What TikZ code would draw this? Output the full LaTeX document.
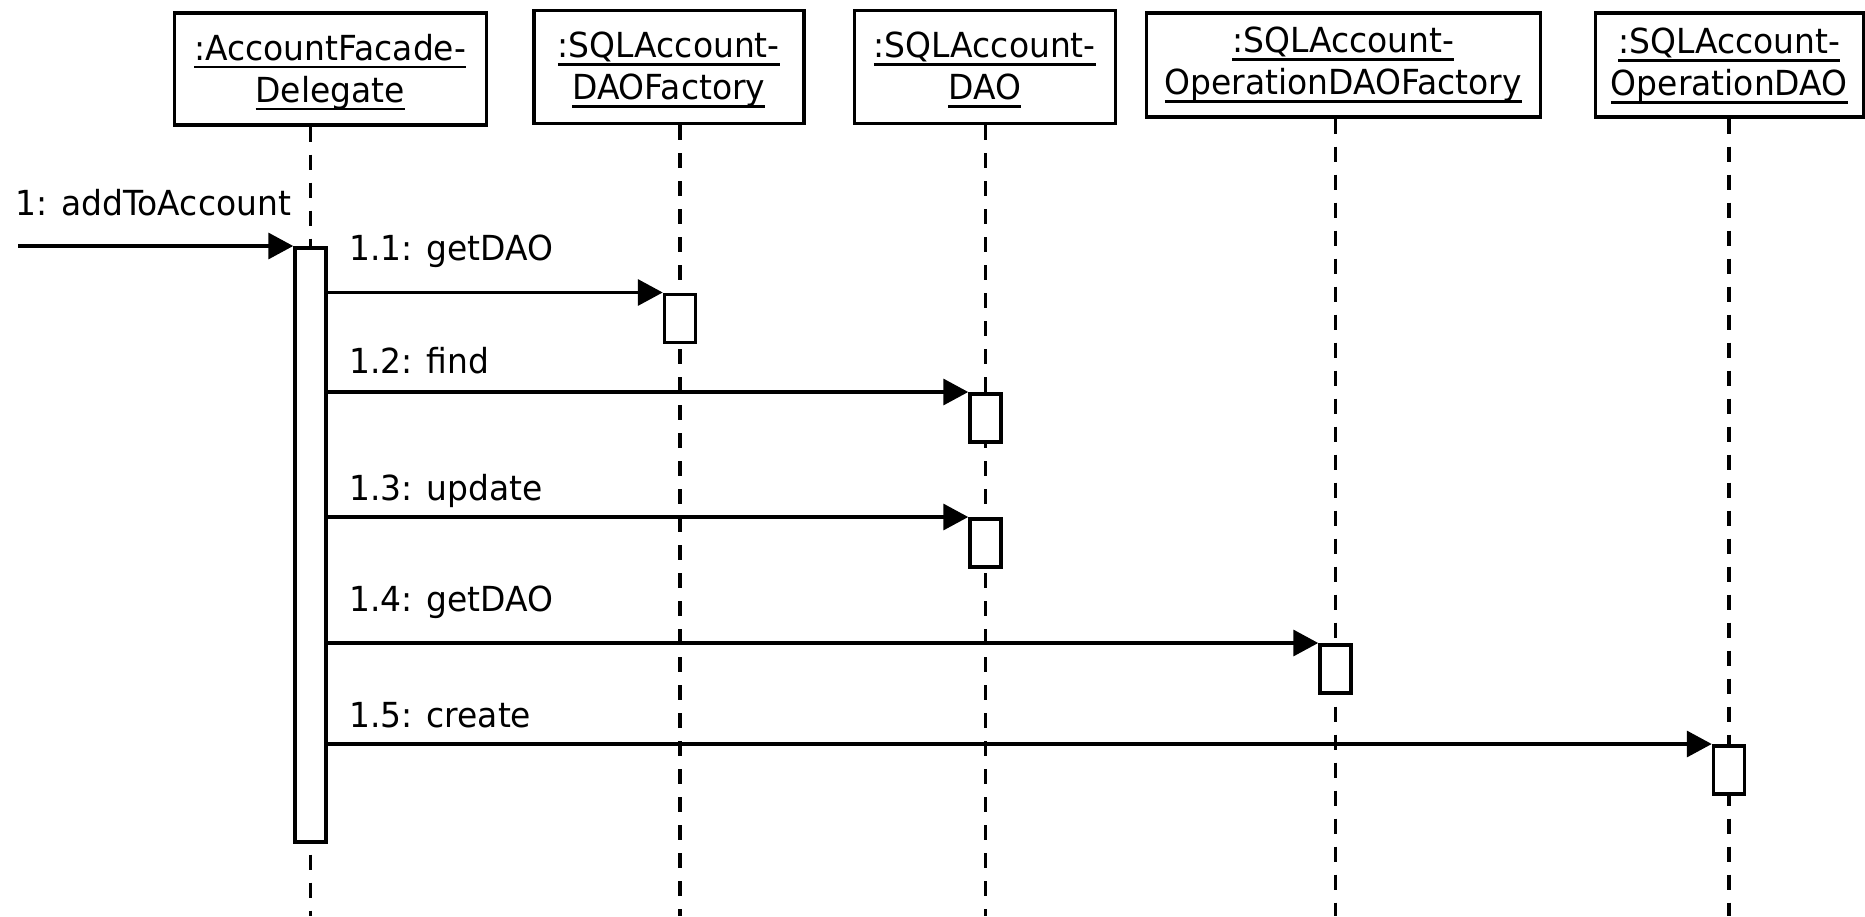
\documentclass[tikz,border=0pt]{standalone}
\usepackage{fontspec}
\setmainfont{DejaVu Sans}[FakeStretch=0.955]
\usetikzlibrary{arrows.meta}
\newcommand{\boxfont}{\fontsize{34.5}{42}\selectfont}
\newcommand{\lblfont}{\fontsize{34.5}{42}\selectfont}
\newcommand{\ulx}[1]{\setbox0=\hbox{#1}\rlap{\rule[-0.24em]{\wd0}{0.085em}}\box0}
\begin{document}
\begin{tikzpicture}[x=1pt,y=-1pt,
  lw/.style={line width=3.5pt},
  objbox/.style={draw, lw, fill=white, inner sep=0pt, anchor=north west},
  objtext/.style={align=center, inner sep=0pt, font=\boxfont},
  actbox/.style={draw, lw, fill=white, inner sep=0pt, minimum width=31pt, anchor=north},
  lifeline/.style={lw, dash pattern=on 15pt off 13pt},
  msg/.style={lw, -{Triangle[length=25pt,width=26pt]}},
  msglabel/.style={anchor=base west, inner sep=0pt, font=\lblfont}]
\useasboundingbox (0,0) rectangle (1865,916);

% object boxes
\node[objbox, minimum width=312pt, minimum height=112pt] (b1) at (172.5,11) {};
\node[objbox, minimum width=270pt, minimum height=113pt] (b2) at (532,8.5) {};
\node[objbox, minimum width=261pt, minimum height=113pt] (b3) at (852.5,8.5) {};
\node[objbox, minimum width=394pt, minimum height=104pt] (b4) at (1144.5,11) {};
\node[objbox, minimum width=268pt, minimum height=104pt] (b5) at (1593.5,11) {};

\node[objtext] (t1) at ([yshift=-3.5pt]b1.center) {\ulx{:AccountFacade-}\\\ulx{Delegate}};
\node[objtext] (t2) at ([yshift=-3pt]b2.center) {\ulx{:SQLAccount-}\\\ulx{DAOFactory}};
\node[objtext] (t3) at ([yshift=-3pt]b3.center) {\ulx{:SQLAccount-}\\\ulx{DAO}};
\node[objtext] (t4) at ([yshift=-0.5pt]b4.center) {\ulx{:SQLAccount-}\\\ulx{OperationDAOFactory}};
\node[objtext] (t5) at ([yshift=-1.5pt]b5.center) {\ulx{:SQLAccount-}\\\ulx{OperationDAO}};

% lifeline ends
\coordinate (e1) at (310.5,916);
\coordinate (e2) at (680,916);
\coordinate (e3) at (985.5,916);
\coordinate (e4) at (1335.5,916);
\coordinate (e5) at (1729,916);

\draw[lifeline] (e1 |- b1.south) -- (e1);
\draw[lifeline] (e2 |- b2.south) -- (e2);
\draw[lifeline] (e3 |- b3.south) -- (e3);
\draw[lifeline] (e4 |- b4.south) -- (e4);
\draw[lifeline] (e5 |- b5.south) -- (e5);

% activations
\node[actbox, minimum height=594pt] (a1) at (310.5,246) {};
\node[actbox, minimum height=48pt] (a2) at (680,292.5) {};
\node[actbox, minimum height=48pt] (a3) at (985.5,392) {};
\node[actbox, minimum height=48pt] (a4) at (985.5,517) {};
\node[actbox, minimum height=48pt] (a5) at (1335.5,643) {};
\node[actbox, minimum height=48pt] (a6) at (1729,744) {};

% messages
\coordinate (src) at (18,246);
\draw[msg] (src) -- (a1.north west);
\draw[msg] (a1.east |- a2.north) -- (a2.north west);
\draw[msg] (a1.east |- a3.north) -- (a3.north west);
\draw[msg] (a1.east |- a4.north) -- (a4.north west);
\draw[msg] (a1.east |- a5.north) -- (a5.north west);
\draw[msg] (a1.east |- a6.north) -- (a6.north west);

% labels
\node[msglabel] (m0) at (15,215) {1: addToAccount};
\node[msglabel] (m1) at (349,260) {1.1: getDAO};
\node[msglabel] (m2) at (349,373) {1.2: find};
\node[msglabel] (m3) at (349,500) {1.3: update};
\node[msglabel] (m4) at (349,611) {1.4: getDAO};
\node[msglabel] (m5) at (349,727) {1.5: create};
\end{tikzpicture}
\end{document}
